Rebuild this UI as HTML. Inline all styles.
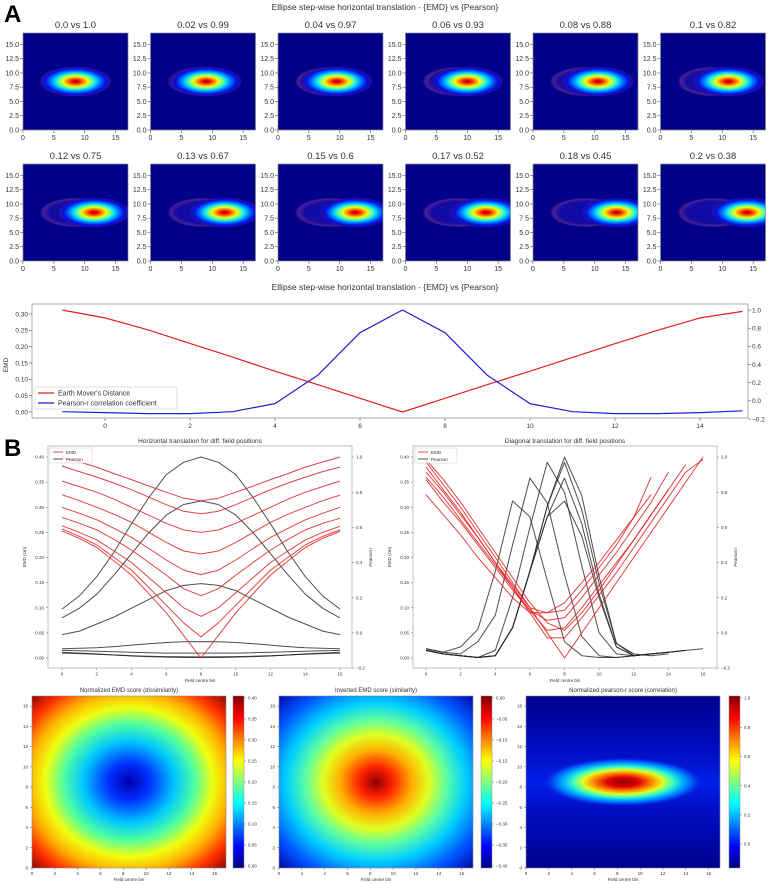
<!DOCTYPE html>
<html><head><meta charset="utf-8"><style>
html,body{margin:0;padding:0;background:#fff;}
svg{display:block;font-family:"Liberation Sans",sans-serif;}
</style></head><body>
<svg id="fig" width="769" height="884" viewBox="0 0 769 884" xmlns="http://www.w3.org/2000/svg">
<defs>
<linearGradient id="jetV" x1="0" y1="1" x2="0" y2="0">
<stop offset="0" stop-color="#000080"/><stop offset="0.125" stop-color="#0000ff"/><stop offset="0.375" stop-color="#00ffff"/><stop offset="0.5" stop-color="#80ff80"/><stop offset="0.625" stop-color="#ffff00"/><stop offset="0.875" stop-color="#ff0000"/><stop offset="1" stop-color="#800000"/>
</linearGradient>
<radialGradient id="blob">
<stop offset="0" stop-color="#9a0000"/><stop offset="0.1" stop-color="#e81000"/><stop offset="0.22" stop-color="#ff8000"/><stop offset="0.34" stop-color="#f0ff10"/><stop offset="0.46" stop-color="#60ffa0"/><stop offset="0.56" stop-color="#00d8ff"/><stop offset="0.68" stop-color="#0070ff"/><stop offset="0.82" stop-color="#0010e0"/><stop offset="0.93" stop-color="#2a10b0" stop-opacity="0.8"/><stop offset="1" stop-color="#000088" stop-opacity="0"/>
</radialGradient>
<radialGradient id="halo">
<stop offset="0" stop-color="#1818c8" stop-opacity="0.55"/><stop offset="0.7" stop-color="#2818b8" stop-opacity="0.5"/><stop offset="0.88" stop-color="#6a2a98" stop-opacity="0.75"/><stop offset="1" stop-color="#000080" stop-opacity="0"/>
</radialGradient>
<radialGradient id="emdMap" gradientUnits="objectBoundingBox" cx="0.5" cy="0.5" r="0.72">
<stop offset="0" stop-color="#0000b0"/><stop offset="0.15" stop-color="#0030ff"/><stop offset="0.33" stop-color="#00c8ff"/><stop offset="0.47" stop-color="#50ffa0"/><stop offset="0.6" stop-color="#f0ff10"/><stop offset="0.72" stop-color="#ffb000"/><stop offset="0.85" stop-color="#ff3000"/><stop offset="1" stop-color="#800000"/>
</radialGradient>
<radialGradient id="invMap" gradientUnits="objectBoundingBox" cx="0.5" cy="0.5" r="0.72">
<stop offset="0" stop-color="#900000"/><stop offset="0.12" stop-color="#ff2000"/><stop offset="0.26" stop-color="#ffb000"/><stop offset="0.38" stop-color="#e0ff20"/><stop offset="0.5" stop-color="#60ffa0"/><stop offset="0.64" stop-color="#00d0ff"/><stop offset="0.82" stop-color="#0050ff"/><stop offset="1" stop-color="#0000a0"/>
</radialGradient>
<linearGradient id="pearBg" x1="0" y1="0" x2="0" y2="1">
<stop offset="0" stop-color="#00008e"/><stop offset="0.35" stop-color="#0010c8"/><stop offset="0.5" stop-color="#0020e8"/><stop offset="0.65" stop-color="#0010c8"/><stop offset="1" stop-color="#00008e"/>
</linearGradient>
<radialGradient id="pearBlob">
<stop offset="0" stop-color="#900000"/><stop offset="0.2" stop-color="#e00000"/><stop offset="0.38" stop-color="#ff9000"/><stop offset="0.5" stop-color="#e0ff20"/><stop offset="0.62" stop-color="#40ffc0"/><stop offset="0.75" stop-color="#00b0ff"/><stop offset="0.9" stop-color="#0040f0"/><stop offset="1" stop-color="#0020e8" stop-opacity="0"/>
</radialGradient>
</defs>
</svg>
<script>
// ---------- data ----------
const panelEmd = ["0.0","0.02","0.04","0.06","0.08","0.1","0.12","0.13","0.15","0.17","0.18","0.2"];
const panelPearson = ["1.0","0.99","0.97","0.93","0.88","0.82","0.75","0.67","0.6","0.52","0.45","0.38"];
const panelShift = [0,0.5,1,1.5,2,2.5,3,3.5,4,4.5,5,5.5];

const lineX = [-1,0,1,2,3,4,5,6,7,8,9,10,11,12,13,14,15];
const lineEmd = [0.312,0.288,0.252,0.21,0.168,0.125,0.084,0.042,0.0,0.042,0.084,0.125,0.167,0.209,0.25,0.288,0.308];
const linePearson = [-0.12,-0.13,-0.14,-0.14,-0.12,-0.03,0.28,0.75,1.0,0.75,0.28,-0.03,-0.12,-0.14,-0.14,-0.13,-0.11];
const lineXTicks = [0,2,4,6,8,10,12,14];
const lineYTicks = [0,0.05,0.1,0.15,0.2,0.25,0.3];
const lineY2Ticks = [-0.2,0,0.2,0.4,0.6,0.8,1.0];

const hX = [0,1,2,3,4,5,6,7,8,9,10,11,12,13,14,15,16];
const hEmd1 = [0.40,0.39,0.38,0.367,0.355,0.342,0.33,0.318,0.313,0.318,0.33,0.342,0.355,0.367,0.38,0.39,0.40];
const hEmd2 = [0.382,0.371,0.36,0.348,0.335,0.32,0.305,0.292,0.287,0.292,0.305,0.32,0.335,0.348,0.36,0.371,0.38];
const hEmd3 = [0.352,0.341,0.33,0.316,0.30,0.284,0.268,0.255,0.25,0.255,0.268,0.284,0.30,0.316,0.33,0.341,0.352];
const hEmd4 = [0.325,0.313,0.30,0.286,0.27,0.25,0.23,0.213,0.207,0.213,0.23,0.25,0.27,0.286,0.30,0.313,0.324];
const hEmd5 = [0.300,0.288,0.275,0.258,0.24,0.218,0.195,0.175,0.166,0.175,0.195,0.218,0.24,0.258,0.275,0.288,0.300];
const hEmd6 = [0.280,0.268,0.255,0.236,0.215,0.19,0.165,0.138,0.124,0.138,0.165,0.19,0.215,0.236,0.255,0.268,0.278];
const hEmd7 = [0.263,0.25,0.235,0.213,0.19,0.16,0.13,0.10,0.083,0.10,0.13,0.16,0.19,0.213,0.235,0.25,0.262];
const hEmd8 = [0.257,0.242,0.225,0.20,0.175,0.14,0.105,0.07,0.042,0.07,0.105,0.14,0.175,0.20,0.225,0.242,0.255];
const hEmd9 = [0.253,0.238,0.22,0.193,0.165,0.128,0.09,0.045,0.0,0.045,0.09,0.128,0.165,0.193,0.22,0.238,0.252];
const hPear1 = [0.135,0.21,0.32,0.46,0.62,0.77,0.90,0.97,1.0,0.97,0.90,0.77,0.62,0.46,0.32,0.21,0.135];
const hPear2 = [0.085,0.14,0.22,0.33,0.45,0.57,0.67,0.73,0.75,0.73,0.67,0.57,0.45,0.33,0.22,0.14,0.085];
const hPear3 = [-0.01,0.01,0.05,0.09,0.14,0.19,0.24,0.27,0.28,0.27,0.24,0.19,0.14,0.09,0.05,0.01,-0.01];
const hPear4 = [-0.09,-0.088,-0.085,-0.078,-0.07,-0.062,-0.055,-0.051,-0.05,-0.051,-0.055,-0.062,-0.07,-0.078,-0.085,-0.088,-0.09];
const hPear5 = [-0.10,-0.102,-0.105,-0.108,-0.11,-0.113,-0.115,-0.115,-0.115,-0.115,-0.115,-0.113,-0.11,-0.108,-0.105,-0.102,-0.10];
const hPear6 = [-0.115,-0.118,-0.122,-0.126,-0.13,-0.133,-0.135,-0.136,-0.137,-0.136,-0.135,-0.133,-0.13,-0.126,-0.122,-0.118,-0.115];
const hPear7 = [-0.11,-0.115,-0.12,-0.126,-0.132,-0.135,-0.138,-0.14,-0.14,-0.14,-0.138,-0.135,-0.132,-0.126,-0.12,-0.115,-0.11];

const dEmd1 = [0.39,0.345,0.30,0.25,0.20,0.15,0.10,0.05,0.0,0.05,0.10,0.15,0.20,0.25,0.30,0.35,0.40];
const dEmd2 = [0.38,0.335,0.29,0.24,0.19,0.14,0.09,0.04,0.04,0.08,0.125,0.17,0.22,0.27,0.32,0.37,0.395];
const dEmd3 = [0.36,0.32,0.275,0.23,0.185,0.14,0.095,0.055,0.06,0.10,0.145,0.19,0.235,0.285,0.335,0.385];
const dEmd4 = [0.355,0.31,0.27,0.225,0.18,0.135,0.095,0.075,0.08,0.12,0.165,0.21,0.26,0.31,0.37];
const dEmd5 = [0.37,0.33,0.285,0.24,0.19,0.145,0.10,0.09,0.095,0.135,0.18,0.225,0.28,0.325];
const dEmd6 = [0.325,0.285,0.245,0.20,0.16,0.12,0.09,0.09,0.11,0.15,0.19,0.235,0.28,0.36];
const dEmd7 = [0.395,0.355,0.31,0.26,0.21,0.16,0.11,0.07,0.055,0.09,0.135,0.185,0.235,0.285,0.335];
const dPear1 = [-0.09,-0.11,-0.08,0.02,0.35,0.75,0.66,0.30,-0.05,-0.13,-0.14,-0.14,-0.13,-0.12,-0.11,-0.10];
const dPear2 = [-0.09,-0.11,-0.12,-0.05,0.10,0.50,0.88,0.74,0.33,-0.02,-0.13,-0.14,-0.13,-0.12,-0.11];
const dPear3 = [-0.10,-0.12,-0.13,-0.14,-0.10,0.20,0.60,0.97,0.80,0.38,0.00,-0.12,-0.13,-0.12,-0.11,-0.10];
const dPear4 = [-0.10,-0.12,-0.13,-0.14,-0.13,0.03,0.35,0.72,1.0,0.78,0.32,-0.06,-0.13,-0.12,-0.11,-0.10,-0.09];
const dPear5 = [-0.10,-0.12,-0.13,-0.14,-0.13,0.03,0.35,0.72,0.97,0.70,0.28,-0.06,-0.12,-0.13,-0.12];
const dPear6 = [-0.10,-0.12,-0.13,-0.14,-0.13,0.03,0.35,0.66,0.88,0.62,0.22,-0.08,-0.13,-0.12];
const dPear7 = [-0.10,-0.12,-0.13,-0.14,-0.13,0.03,0.35,0.66,0.75,0.55,0.20,-0.08,-0.13,-0.12];
const bXTicks = [0,2,4,6,8,10,12,14,16];
const bYTicks = [0,0.05,0.1,0.15,0.2,0.25,0.3,0.35,0.4];
const bY2Ticks = [-0.2,0,0.2,0.4,0.6,0.8,1.0];

const cb1Ticks = ["0.40","0.35","0.30","0.25","0.20","0.15","0.10","0.05","0.00"];
const cb2Ticks = ["0.00","−0.05","−0.10","−0.15","−0.20","−0.25","−0.30","−0.35","−0.40"];
const cb3Ticks = ["1.0","0.8","0.6","0.4","0.2","0.0"];

// ---------- helpers ----------
const NS='http://www.w3.org/2000/svg';
const svg=document.getElementById('fig');
function mk(tag,attrs,parent){const e=document.createElementNS(NS,tag);for(const k in attrs)e.setAttribute(k,attrs[k]);(parent||svg).appendChild(e);return e;}
function txt(s,x,y,size,anchor,extra){const t=mk('text',Object.assign({x:x,y:y,'font-size':size,'text-anchor':anchor||'middle',fill:'#333'},extra||{}));t.textContent=s;return t;}
function poly(xs,ys,fx,fy,color,w,op){let d='';xs.forEach((x,i)=>{d+=(i?'L':'M')+fx(x).toFixed(1)+' '+fy(ys[i]).toFixed(1);});return mk('path',{d:d,fill:'none',stroke:color,'stroke-width':w,'stroke-opacity':op||1,'stroke-linejoin':'round'});}

// ---------- labels ----------
let t=txt('A',4,22,24,'start',{'font-weight':'bold',fill:'#000'});


t=txt('B',4,456,24,'start',{'font-weight':'bold',fill:'#000'});


t=txt('Ellipse step-wise horizontal translation - {EMD} vs {Pearson}',385,10,8.5);



// ---------- top grid ----------
const PW=105,PH=97,U=17;
panelEmd.forEach((e,i)=>{
  const col=i%6,row=Math.floor(i/6);
  const x0=23+col*127.5,y0=row?164:33;
  const sx=v=>x0+v/U*PW, sy=v=>y0+PH-v/U*PH;
  const g=mk('g',{});
  
  
  const cp=mk('clipPath',{id:'cp'+i},g);
  mk('rect',{x:x0,y:y0,width:PW,height:PH},cp);
  const bg=mk('rect',{x:x0,y:y0,width:PW,height:PH,fill:'#00008a'},g);
  
  
  const halo=mk('ellipse',{cx:sx(8.5),cy:sy(8.5),rx:6.0/U*PW,ry:2.7/U*PH,fill:'url(#halo)','clip-path':'url(#cp'+i+')'},g);
  
  
  const blob=mk('ellipse',{cx:sx(8.5+panelShift[i]),cy:sy(8.5),rx:6.0/U*PW,ry:2.7/U*PH,fill:'url(#blob)','clip-path':'url(#cp'+i+')'},g);
  
  
  mk('rect',{x:x0,y:y0,width:PW,height:PH,fill:'none',stroke:'#888','stroke-width':0.7},g);
  const tt=txt(e+' vs '+panelPearson[i],x0+PW/2,y0-5,9.5);
  
  
  [0,2.5,5,7.5,10,12.5,15].forEach(v=>{mk('line',{x1:x0-3,x2:x0,y1:sy(v),y2:sy(v),stroke:'#555','stroke-width':0.6},g);const l=txt(v.toFixed(1),x0-4,sy(v)+2.5,7,'end');});
  [0,5,10,15].forEach(v=>{mk('line',{x1:sx(v),x2:sx(v),y1:y0+PH,y2:y0+PH+3,stroke:'#555','stroke-width':0.6},g);const l=txt(String(v),sx(v),y0+PH+10,7);});
});

// ---------- line chart ----------
t=txt('Ellipse step-wise horizontal translation - {EMD} vs {Pearson}',385,290,8.5);


const lx=v=>105+v*42.5, ly=v=>412-v*326.7, ly2=v=>419-(v+0.2)*90.8;
let fr=mk('rect',{x:32,y:304,width:716,height:114,fill:'none',stroke:'#888','stroke-width':0.7});


lineXTicks.forEach(v=>{mk('line',{x1:lx(v),x2:lx(v),y1:418,y2:421,stroke:'#555','stroke-width':0.6});const l=txt(String(v),lx(v),428,6.5);});
lineYTicks.forEach(v=>{mk('line',{x1:29,x2:32,y1:ly(v),y2:ly(v),stroke:'#555','stroke-width':0.6});const l=txt(v.toFixed(2),28,ly(v)+2.3,6.5,'end');});
lineY2Ticks.forEach(v=>{mk('line',{x1:748,x2:751,y1:ly2(v),y2:ly2(v),stroke:'#555','stroke-width':0.6});const l=txt((v<0?'−':'')+Math.abs(v).toFixed(1),752,ly2(v)+2.3,6.5,'start');});
t=txt('EMD',8,365,6.5,'middle',{transform:'rotate(-90 8 365)'});


let ln=poly(lineX,lineEmd,lx,ly,'#e02020',1.2);


ln=poly(lineX,linePearson,lx,ly2,'#2020d0',1.2);


let lg=mk('rect',{x:35,y:387,width:142,height:22,fill:'#fff','fill-opacity':0.85,stroke:'#ccc','stroke-width':0.6});


mk('line',{x1:38,x2:54,y1:393,y2:393,stroke:'#e02020','stroke-width':1.3});
t=txt("Earth Mover's Distance",58,395.5,7,'start');


mk('line',{x1:38,x2:54,y1:403,y2:403,stroke:'#2020d0','stroke-width':1.3});
t=txt('Pearson-r correlation coefficient',58,405.5,7,'start');



// ---------- B charts ----------
function bChart(x0,x1,xt0,xt16,title,emdS,pearS,xsets,name){
  const g=mk('g',{});
  
  
  const bx=v=>xt0+v*(xt16-xt0)/16, by=v=>658-v*502.5, by2=v=>668-(v+0.2)*175.8;
  mk('rect',{x:x0,y:446,width:x1-x0,height:222,fill:'none',stroke:'#999','stroke-width':0.6},g);
  const tt=txt(title,(x0+x1)/2,443,6.5);
  
  
  bXTicks.forEach(v=>{mk('line',{x1:bx(v),x2:bx(v),y1:668,y2:670,stroke:'#666','stroke-width':0.5},g);const l=txt(String(v),bx(v),675.5,4.5);});
  bYTicks.forEach(v=>{mk('line',{x1:x0-2,x2:x0,y1:by(v),y2:by(v),stroke:'#666','stroke-width':0.5},g);const l=txt(v.toFixed(2),x0-4,by(v)+1.6,4.5,'end');});
  bY2Ticks.forEach(v=>{mk('line',{x1:x1,x2:x1+2,y1:by2(v),y2:by2(v),stroke:'#666','stroke-width':0.5},g);const l=txt((v<0?'−':'')+Math.abs(v).toFixed(1),x1+4,by2(v)+1.6,4.5,'start');});
  let l=txt('Field centre bin',(x0+x1)/2,682,4.5);
  
  
  l=txt('EMD (cm)',x0-22,557,4.5,'middle',{transform:'rotate(-90 '+(x0-22)+' 557)'});
  
  
  l=txt('Pearson r',x1+20,557,4.5,'middle',{transform:'rotate(-90 '+(x1+20)+' 557)'});
  
  
  pearS.forEach(s=>{const xs=xsets.slice(0,s.length);const p=poly(xs,s,bx,by2,'#222',1,0.8);g.appendChild(p);});
  emdS.forEach(s=>{const xs=xsets.slice(0,s.length);const p=poly(xs,s,bx,by,'#e02020',1,0.85);g.appendChild(p);});
  const lr=mk('rect',{x:x0+2,y:448,width:42,height:15,fill:'#fff','fill-opacity':0.8,stroke:'#ccc','stroke-width':0.5},g);
  
  
  mk('line',{x1:x0+5,x2:x0+15,y1:452,y2:452,stroke:'#e02020','stroke-width':0.8},g);
  l=txt('EMD',x0+18,454,4.5,'start');
  
  
  mk('line',{x1:x0+5,x2:x0+15,y1:459,y2:459,stroke:'#222','stroke-width':0.8},g);
  l=txt('Pearson',x0+18,461,4.5,'start');
  
  
}
const dX=[0,1,2,3,4,5,6,7,8,9,10,11,12,13,14,15,16];
bChart(48,352,62,340,'Horizontal translation for diff. field positions',
 [hEmd1,hEmd2,hEmd3,hEmd4,hEmd5,hEmd6,hEmd7,hEmd8,hEmd9],
 [hPear1,hPear2,hPear3,hPear4,hPear5,hPear6,hPear7],hX,'horizontal-translation-chart');
bChart(413,717,426,703,'Diagonal translation for diff. field positions',
 [dEmd1,dEmd2,dEmd3,dEmd4,dEmd5,dEmd6,dEmd7],
 [dPear1,dPear2,dPear3,dPear4,dPear5,dPear6,dPear7],dX,'diagonal-translation-chart');

// ---------- bottom heatmaps ----------
function heat(x0,cbx,title,fill,cbTicks,name,extra){
  const g=mk('g',{});
  
  
  const W=194,H=172,Y=696;
  const r=mk('rect',{x:x0,y:Y,width:W,height:H,fill:fill},g);
  
  
  if(extra)extra(g,x0,Y,W,H);
  mk('rect',{x:x0,y:Y,width:W,height:H,fill:'none',stroke:'#888','stroke-width':0.6},g);
  let l=txt(title,x0+W/2,692,6);
  
  
  for(let v=0;v<=16;v+=2){
    const px=x0+v/17*W, py=Y+H-v/17*H;
    mk('line',{x1:px,x2:px,y1:Y+H,y2:Y+H+2,stroke:'#666','stroke-width':0.5},g);
    l=txt(String(v),px,Y+H+7,4.5);
    
    
    mk('line',{x1:x0-2,x2:x0,y1:py,y2:py,stroke:'#666','stroke-width':0.5},g);
    l=txt(String(v),x0-4,py+1.6,4.5,'end');
    
    
  }
  l=txt('Field centre bin',x0+W/2,881,4.5);
  
  
  const cb=mk('rect',{x:cbx,y:Y,width:11,height:H,fill:'url(#jetV)',stroke:'#888','stroke-width':0.5},g);
  
  
  cbTicks.forEach((s,i)=>{const py=Y+2+i*(H-4)/(cbTicks.length-1+(name==='pearson-heatmap'?0.75:0));mk('line',{x1:cbx+11,x2:cbx+13,y1:py,y2:py,stroke:'#666','stroke-width':0.5},g);const tl=txt(s,cbx+15,py+1.6,4.5,'start');});
}
heat(32,233,'Normalized EMD score (dissimilarity)','url(#emdMap)',cb1Ticks,'emd-heatmap');
heat(279,481,'Inverted EMD score (similarity)','url(#invMap)',cb2Ticks,'inverted-emd-heatmap');
heat(526,729,'Normalized pearson-r score (correlation)','url(#pearBg)',cb3Ticks,'pearson-heatmap',(g,x0,Y,W,H)=>{
  const e=mk('ellipse',{cx:x0+8.5/17*W,cy:Y+H-8.5/17*H,rx:7/17*W,ry:2.4/17*H,fill:'url(#pearBlob)'},g);
  
  
});
</script>
</body></html>
